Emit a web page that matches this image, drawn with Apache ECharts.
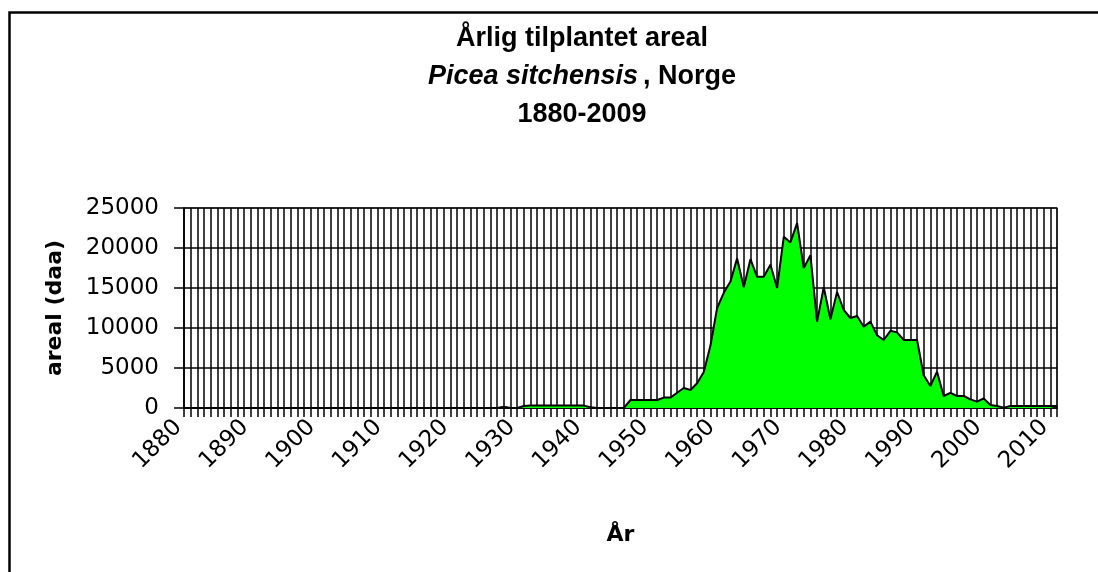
<!DOCTYPE html>
<html>
<head>
<meta charset="utf-8">
<script src="https://cdn.jsdelivr.net/npm/echarts@6/dist/echarts.min.js"></script>
<style>
  html, body { margin: 0; padding: 0; background: #fff; }
  #main { width: 1098px; height: 572px; }
</style>
</head>
<body>
<div id="main"></div>
<script>
// år 1880-2011
var years = [];
for (var y = 1880; y <= 2011; y++) {
    years.push(String(y));
}

// tilplantet areal (daa), lest av figuren
var areal1880_1929 = [0, 0, 0, 0, 0, 0, 0, 0, 0, 0,
    0, 0, 0, 0, 0, 0, 0, 0, 0, 0,
    0, 0, 0, 0, 0, 0, 0, 0, 0, 0,
    0, 0, 0, 0, 0, 0, 0, 0, 0, 0,
    0, 0, 0, 0, 0, 0, 0, 0, 150, 0];
var areal1930_1959 = [0, 250, 300, 300, 300, 300, 300, 300, 300, 300,
    300, 100, 0, 0, 0, 0, 0, 1000, 1000, 1000,
    1000, 1000, 1300, 1300, 1900, 2500, 2250, 3100, 4500, 7800];
var areal1960_1989 = [12500, 14400, 15800, 18700, 15100, 18600, 16400, 16400, 17900, 15000,
    21400, 20700, 23100, 17500, 19100, 10800, 15100, 11100, 14500, 12250,
    11250, 11500, 10150, 10800, 9100, 8500, 9650, 9450, 8500, 8500];
var areal1990_2011 = [8500, 4100, 2750, 4540, 1500, 1900, 1500, 1500, 1080, 790,
    1200, 375, 250, 50, 250, 250, 250, 250, 250, 250, 250, 250];

var areal = areal1880_1929.concat(areal1930_1959, areal1960_1989, areal1990_2011);

var axisFont = '"DejaVu Sans", Arial, sans-serif';

var myChart = echarts.init(document.getElementById('main'));

var option = {
    backgroundColor: '#fff',
    animation: false,
    textStyle: {
        fontFamily: 'Arial, "Liberation Sans", sans-serif'
    },
    title: {
        left: 577,
        top: 15,
        textAlign: 'center',
        text: '{b|Årlig tilplantet areal}\n{i|Picea sitchensis} {b|, Norge}\n{b|1880-2009}',
        textStyle: {
            rich: {
                b: { fontSize: 27, fontWeight: 'bold', color: '#000', lineHeight: 38 },
                i: { fontSize: 27, fontStyle: 'italic', color: '#000', lineHeight: 38 }
            }
        }
    },
    graphic: [{
        type: 'rect',
        shape: { x: 9.5, y: 12.5, width: 1200, height: 700 },
        style: { fill: 'none', stroke: '#000', lineWidth: 2.5 },
        silent: true
    }],
    grid: {
        left: 184,
        right: 41,
        top: 208,
        bottom: 164,
        show: true,
        borderColor: '#808080',
        borderWidth: 1.5
    },
    xAxis: {
        type: 'category',
        data: years,
        boundaryGap: false,
        name: 'År',
        nameLocation: 'middle',
        nameGap: 116,
        nameTextStyle: { fontSize: 22, fontWeight: 'bold', color: '#000', fontFamily: axisFont },
        axisLine: { lineStyle: { color: '#000', width: 1.5 } },
        axisTick: { interval: 0, length: 9, lineStyle: { color: '#000', width: 1.5 } },
        axisLabel: {
            interval: 9,
            rotate: 45,
            fontSize: 23,
            color: '#000',
            fontFamily: axisFont,
            margin: 10,
            padding: [0, 8, 0, 0]
        },
        splitLine: { show: true, interval: 0, lineStyle: { color: '#000', width: 1.5 } }
    },
    yAxis: {
        type: 'value',
        min: 0,
        max: 25000,
        interval: 5000,
        name: 'areal (daa)',
        nameLocation: 'middle',
        nameGap: 118,
        nameTextStyle: { fontSize: 22, fontWeight: 'bold', color: '#000', fontFamily: axisFont },
        axisLine: { show: true, lineStyle: { color: '#000', width: 1.5 } },
        axisTick: { show: true, length: 10, lineStyle: { color: '#000', width: 1.5 } },
        axisLabel: {
            fontSize: 23,
            color: '#000',
            fontFamily: axisFont,
            margin: 25,
            formatter: function (v) { return String(v); }
        },
        splitLine: { show: true, lineStyle: { color: '#000', width: 1.5 } }
    },
    series: [{
        name: 'areal',
        type: 'line',
        data: areal,
        symbol: 'none',
        lineStyle: { color: '#000', width: 2 },
        areaStyle: { color: '#00ff00', opacity: 1 }
    }]
};
myChart.setOption(option);
</script>
</body>
</html>
